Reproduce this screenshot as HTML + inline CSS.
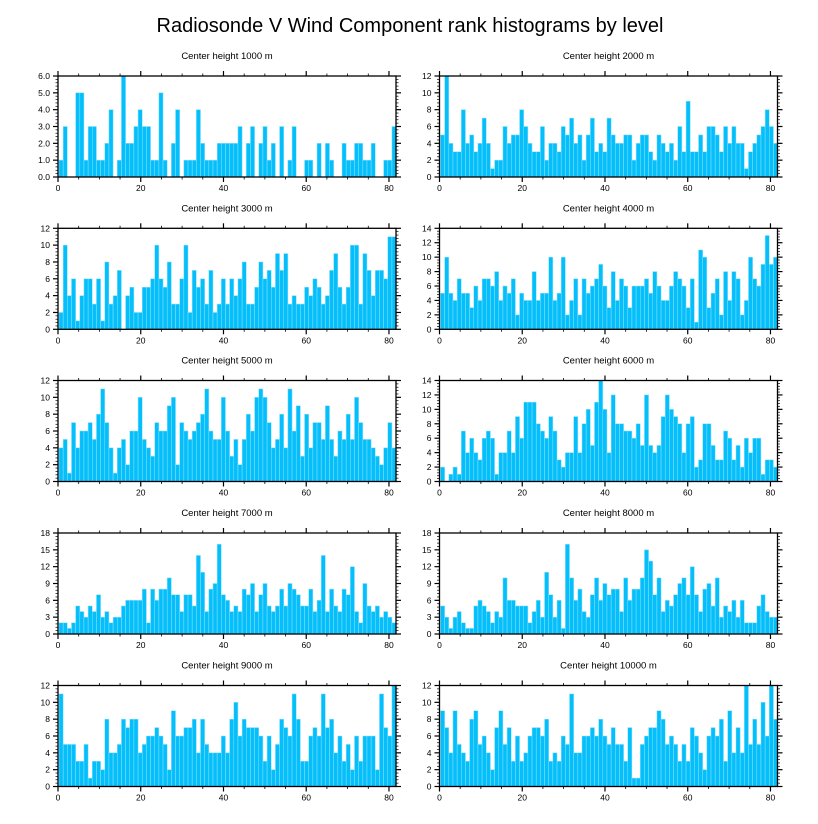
<!DOCTYPE html>
<html><head><meta charset="utf-8">
<style>
body{margin:0;background:#fff;}
svg{display:block;font-family:"Liberation Sans",sans-serif;}
</style></head>
<body>
<svg id="chart" width="818" height="824" viewBox="0 0 818 824">
<text x="410" y="32" text-anchor="middle" font-size="20" fill="#000">Radiosonde V Wind Component rank histograms by level</text>
</svg>
<script>
const levels = ["1000","2000","3000","4000","5000","6000","7000","8000","9000","10000"];
const yMaxes = [6,12,12,14,12,14,18,18,12,12];
const ySteps = [1,2,2,2,2,2,3,3,2,2];
const xTicks = [0,20,40,60,80];
const c1000 = [1,3,0,0,5,5,1,3,3,1,1,2,4,0,1,6,2,2,3,4,3,3,1,1,5,1,0,2,4,0,1,1,1,4,2,1,1,1,2,2,2,2,2,3,0,2,3,0,2,3,1,2,0,3,0,1,3,0,0,1,1,0,2,0,2,1,0,0,2,1,1,2,2,1,1,2,0,0,1,1,3];
const c2000 = [5,12,4,3,3,8,4,5,3,4,7,4,1,2,2,6,4,5,5,8,6,4,3,3,6,2,4,4,3,6,5,7,4,5,2,5,7,3,4,3,7,5,4,4,5,5,2,4,5,5,3,2,5,4,3,4,2,6,3,9,3,3,5,3,6,6,5,3,6,4,6,4,4,1,3,4,5,6,8,6,4];
const c3000 = [2,10,4,6,1,4,6,6,3,6,1,8,3,4,7,0,4,5,2,2,5,5,6,10,6,5,8,3,3,6,10,2,7,5,6,3,7,2,3,6,3,6,4,6,8,3,3,5,8,6,7,5,9,7,9,3,4,3,3,5,4,6,5,3,4,7,9,5,3,5,10,10,3,9,7,4,7,7,6,11,11];
const c4000 = [5,10,5,4,7,5,5,3,6,4,7,7,6,8,4,6,5,7,2,5,4,4,8,4,5,5,10,4,5,10,2,4,7,2,7,5,6,7,9,6,3,8,4,7,6,3,6,6,6,7,5,8,6,4,4,6,8,7,6,3,7,1,11,10,3,5,7,2,8,4,8,7,2,4,10,7,6,9,13,9,10];
const c5000 = [4,5,1,7,4,6,6,7,5,8,11,7,4,1,4,5,2,6,6,10,5,4,3,7,6,6,9,10,2,7,6,5,6,7,8,11,6,5,5,10,6,3,5,2,5,8,6,10,11,10,7,4,5,8,4,11,6,9,3,8,4,7,7,5,9,5,3,6,5,8,5,10,7,5,5,4,3,2,4,7,4];
const c6000 = [2,0,1,2,1,7,4,6,4,3,6,7,6,1,4,4,7,4,9,6,11,11,11,8,7,6,9,7,3,2,4,4,9,4,8,10,5,11,14,10,4,12,8,8,7,7,6,8,5,12,5,4,5,9,12,10,9,8,4,8,9,2,3,8,8,5,3,3,7,6,3,5,2,6,4,6,6,1,3,3,2];
const c7000 = [2,2,1,2,5,4,3,5,4,7,3,4,2,3,3,5,6,6,6,6,8,2,8,6,8,8,10,7,7,4,7,7,5,14,11,4,8,9,16,7,6,4,5,4,8,7,9,4,7,9,5,4,5,8,5,9,8,7,5,5,8,4,6,14,4,8,5,4,8,7,12,4,2,9,5,4,5,3,4,3,2];
const c8000 = [5,3,1,3,4,2,1,1,5,6,5,4,2,4,3,10,6,6,5,5,5,2,4,6,3,11,7,3,6,1,16,10,6,8,4,3,7,10,6,9,7,8,8,4,10,6,8,8,10,15,13,7,10,4,6,5,7,9,10,7,12,7,4,8,9,5,10,3,5,4,6,3,6,2,2,2,5,7,4,3,3];
const c9000 = [11,5,5,5,3,3,5,1,3,3,2,8,4,4,5,8,7,8,8,4,5,6,6,7,6,5,2,9,6,6,7,7,8,4,8,5,4,4,4,6,4,8,10,6,8,7,7,7,6,3,6,2,5,8,7,6,11,8,3,3,6,7,6,11,7,8,4,6,3,5,2,6,3,6,6,6,2,11,7,6,12];
const c10000 = [9,7,4,9,5,4,3,8,9,5,6,4,2,7,9,5,7,3,6,3,4,6,7,7,6,8,3,4,3,6,5,11,4,4,6,6,7,6,8,6,5,7,5,5,3,7,1,1,5,6,7,7,9,8,5,6,5,3,5,3,7,6,4,2,6,7,6,8,3,9,4,7,4,12,5,8,5,10,6,12,8];
const counts = [c1000,c2000,c3000,c4000,c5000,c6000,c7000,c8000,c9000,c10000];

const NS = "http://www.w3.org/2000/svg";
const svg = document.getElementById("chart");
function mk(tag, attrs, parent){
  const e = document.createElementNS(NS, tag);
  for (const k in attrs) e.setAttribute(k, attrs[k]);
  (parent||svg).appendChild(e);
  return e;
}
const colX = [58, 439.5];
const rowY = [76, 228.3, 380.5, 533, 685.5];
const W = 338, H = 101, XMAX = 81.7, BAR0 = 0.24, BW = 1.006;

for (let p = 0; p < 10; p++) {
  const L = colX[p % 2], T = rowY[Math.floor(p / 2)];
  const ymax = yMaxes[p], ystep = ySteps[p];
  const xs = v => L + v * W / XMAX;
  const ys = v => T + H - v * H / ymax;
  const g = mk("g", {});
  
  

  const st = mk("text", {x: L + W/2, y: T - 17, "text-anchor": "middle", "font-size": "9.5", fill: "#000"}, g);
  st.textContent = "Center height " + levels[p] + " m";
  
  

  const data = counts[p];
  for (let i = 0; i < data.length; i++) {
    if (data[i] <= 0) continue;
    const x0 = xs(BAR0 + i * BW), x1 = xs(BAR0 + (i + 1) * BW);
    const r = mk("rect", {x: x0, y: ys(data[i]), width: x1 - x0, height: ys(0) - ys(data[i]), fill: "#05bffb", stroke: "#8fe0ff", "stroke-width": "0.5"}, g);
    
    
  }

  const frame = mk("rect", {x: L, y: T, width: W, height: H, fill: "none", stroke: "#000", "stroke-width": "1.3"}, g);
  
  

  // x ticks
  for (let v = 0; v <= 80; v += 5) {
    const major = v % 20 === 0;
    const len = major ? 5 : 2.5;
    const x = xs(v);
    mk("line", {x1: x, x2: x, y1: T + H, y2: T + H + len, stroke: "#000", "stroke-width": major ? 1.2 : 0.8}, g);
    mk("line", {x1: x, x2: x, y1: T, y2: T - len, stroke: "#000", "stroke-width": major ? 1.2 : 0.8}, g);
  }
  xTicks.forEach(v => {
    const t = mk("text", {x: xs(v), y: T + H + 14, "text-anchor": "middle", "font-size": "8.5", fill: "#000"}, g);
    t.textContent = v;
    
    
  });
  // y ticks
  const minor = ystep / 5;
  for (let k = 0; k * minor <= ymax + 1e-9; k++) {
    const v = k * minor;
    const major = k % 5 === 0;
    const len = major ? 5 : 2.5;
    const y = ys(v);
    mk("line", {x1: L, x2: L - len, y1: y, y2: y, stroke: "#000", "stroke-width": major ? 1.2 : 0.7}, g);
    mk("line", {x1: L + W, x2: L + W + len, y1: y, y2: y, stroke: "#000", "stroke-width": major ? 1.2 : 0.7}, g);
  }
  for (let v = 0; v <= ymax + 1e-9; v += ystep) {
    const t = mk("text", {x: L - 8, y: ys(v) + 3, "text-anchor": "end", "font-size": "8.5", fill: "#000"}, g);
    t.textContent = p === 0 ? v.toFixed(1) : String(v);
    
    
  }
}
</script>
</body></html>
